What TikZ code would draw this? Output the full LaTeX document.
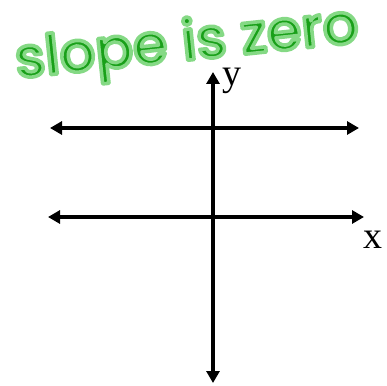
\documentclass[tikz,border=0pt]{standalone}
\usepackage{fontspec}
\setmainfont{Liberation Serif}
\newfontfamily\handfont{Poppins Medium}
\usetikzlibrary{arrows.meta}
\definecolor{penGreen}{RGB}{25,160,25}
\tikzset{
  axisline/.style={line width=4pt,{Triangle[length=12pt,width=13pt]}-{Triangle[length=12pt,width=13pt]}},
  axislabel/.style={font=\fontsize{38}{38}\selectfont, inner sep=0pt},
  handtext/.style={font=\handfont\fontsize{56}{56}\selectfont, text=penGreen, inner sep=0pt}
}
\newcommand{\haloon}{\special{pdf:code 2 Tr 3.6 w 0.52 0.85 0.52 RG 1 j 1 J}}
\newcommand{\halooff}{\special{pdf:code 0 Tr}}
\begin{document}
\begin{tikzpicture}[x=1pt,y=-1pt]
\useasboundingbox (0,0) rectangle (387,385);
\coordinate (ytop) at (213,72);
\coordinate (ybot) at (213,383);
\coordinate (aL) at (50,128);
\coordinate (aR) at (359,128);
\coordinate (bL) at (48,217);
\coordinate (bR) at (364,217);
\draw[axisline] (ytop) -- (ybot);
\draw[axisline] (aL) -- (aR);
\draw[axisline] (bL) -- (bR);
\node[axislabel] (ylab) at (232,81) {y};
\node[axislabel] (xlab) at (373,240) {x};
\node[handtext, rotate=6] (title) at (187,46) {\haloon slope is zero\halooff};
\end{tikzpicture}
\end{document}
